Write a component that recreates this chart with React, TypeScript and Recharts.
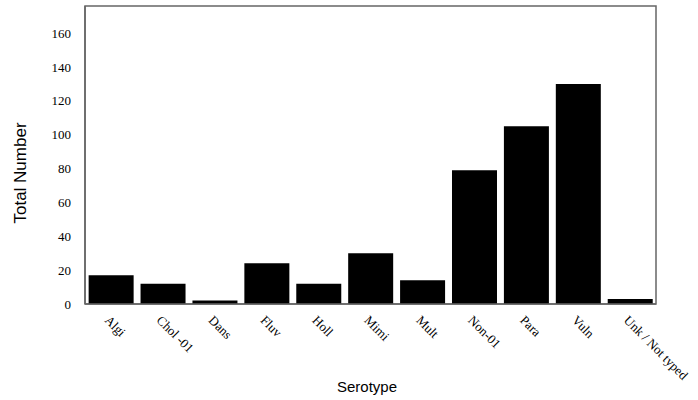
import React from 'react';
import { BarChart, Bar, XAxis, YAxis, ReferenceArea } from 'recharts';

const categories = ['Algi', 'Chol -01', 'Dans', 'Fluv', 'Holl', 'Mimi', 'Mult', 'Non-01', 'Para', 'Vuln', 'Unk / Not typed'];
const totals = [17, 12, 2, 24, 12, 30, 14, 79, 105, 130, 3];
const yTicks = [0, 20, 40, 60, 80, 100, 120, 140, 160];

const data = categories.map((name, i) => ({ name, total: totals[i] }));

const AXIS = '#666666';
const SERIF = "'Liberation Serif', 'Times New Roman', serif";
const SANS = "'Liberation Sans', Arial, sans-serif";

const CategoryTick = (props: any) => {
  const { x, y, payload } = props;
  const tx = x - 7;
  const ty = y + 9;
  return (
    <text
      x={tx}
      y={ty}
      transform={`rotate(45, ${tx}, ${ty})`}
      textAnchor="start"
      fontFamily={SERIF}
      fontSize={13}
      fill="#000"
    >
      {payload.value}
    </text>
  );
};

const App: React.FC = () => {
  return (
    <div style={{ position: 'absolute', left: 0, top: 0, background: '#fff' }}>
      <BarChart
        width={698}
        height={400}
        data={data}
        margin={{ top: 6, right: 42, bottom: 0, left: 0 }}
        barCategoryGap="7%"
      >
        <XAxis
          dataKey="name"
          interval={0}
          tickLine={false}
          stroke={AXIS}
          strokeWidth={1.5}
          tick={<CategoryTick />}
          height={96}
          label={{
            content: () => (
              <text x={367} y={392} textAnchor="middle" fontFamily={SANS} fontSize={15} fill="#000">
                Serotype
              </text>
            ),
          }}
        />
        <YAxis
          domain={[0, 176]}
          ticks={yTicks}
          interval={0}
          tickLine={false}
          tickSize={0}
          tickMargin={14}
          width={85}
          stroke={AXIS}
          strokeWidth={1.5}
          tick={{ fill: '#000', fontSize: 13, fontFamily: SERIF }}
          label={{
            content: () => (
              <text
                x={26}
                y={173}
                transform="rotate(-90, 26, 173)"
                textAnchor="middle"
                fontFamily={SANS}
                fontSize={17}
                fill="#000"
              >
                Total Number
              </text>
            ),
          }}
        />
        <ReferenceArea y1={0} y2={176} fill="none" stroke={AXIS} strokeWidth={1.5} ifOverflow="visible" />
        <Bar dataKey="total" fill="#000" isAnimationActive={false} />
      </BarChart>
    </div>
  );
};

export default App;
